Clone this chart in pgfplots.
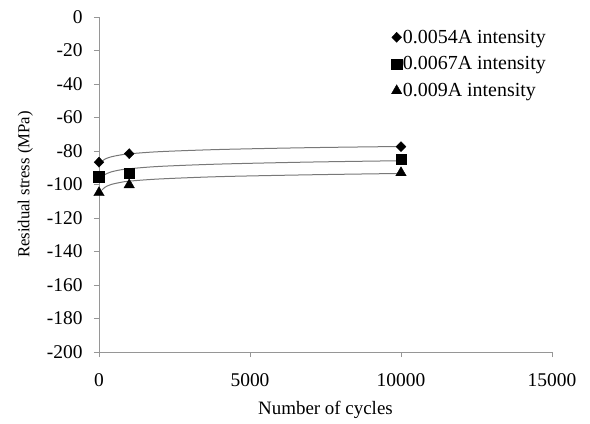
\documentclass[border=0pt]{standalone}
\usepackage{pgfplots}
\pgfplotsset{compat=1.18}
\usepackage{fontspec}
\setmainfont{Liberation Serif}

\definecolor{axisgray}{RGB}{150,150,150}
\definecolor{trendgray}{RGB}{120,120,120}

\begin{document}
\begin{tikzpicture}
\path[use as bounding box] (-99bp,-72bp) rectangle (491bp,352bp);
\begin{axis}[
  at={(0,0)}, anchor=south west,
  scale only axis,
  width=453bp, height=335bp,
  xmin=0, xmax=15000,
  ymin=-200, ymax=0,
  xtick={0,5000,10000,15000},
  ytick={-200,-180,...,0},
  scaled x ticks=false,
  axis lines*=left,
  axis line style={axisgray, line width=0.9bp},
  tick style={axisgray, line width=0.9bp},
  tick align=outside,
  major tick length=5bp,
  /pgf/number format/assume math mode=true,
  /pgf/number format/.cd, 1000 sep={}, /pgfplots/.cd,
  ticklabel style={font=\fontsize{19.5}{21}\selectfont},
  xticklabel style={yshift=-13bp},
  yticklabel style={xshift=-8bp},
  xlabel={Number of cycles},
  ylabel={Residual stress (MPa)},
  xlabel style={font=\fontsize{19}{21}\selectfont, yshift=-8bp},
  ylabel style={font=\fontsize{16.8}{19}\selectfont, yshift=7bp},
  legend style={at={(rel axis cs:0.645,0.965)}, anchor=north west,
    draw=none, fill=none, inner sep=0pt, row sep=10bp,
    font=\fontsize{20}{22}\selectfont,
    nodes={inner sep=1bp}},
  legend cell align=left,
  legend image code/.code={%
    \draw[#1, mark repeat=2, mark phase=2]
      plot coordinates {(0bp,0bp) (5bp,0bp) (11bp,0bp)};},
]
% trend lines
\addplot[trendgray, line width=1bp, smooth, no marks, forget plot]
  coordinates {(100,-86.2) (200,-84.8) (400,-83.5) (700,-82.4) (1000,-81.7)
               (2000,-80.4) (4000,-79.1) (7000,-78.0) (10000,-77.3)};
\addplot[trendgray, line width=1bp, smooth, no marks, forget plot]
  coordinates {(100,-95.5) (200,-94.0) (400,-92.5) (700,-91.3) (1000,-90.6)
               (2000,-89.2) (4000,-87.8) (7000,-86.6) (10000,-85.8)};
\addplot[trendgray, line width=1bp, smooth, no marks, forget plot]
  coordinates {(100,-103.3) (200,-101.6) (400,-100.0) (700,-98.8) (1000,-98.0)
               (2000,-96.7) (4000,-95.3) (7000,-94.2) (10000,-93.4)};
% measured points
\addplot[only marks, mark=diamond*, mark size=5bp, black,
  mark options={xscale=1.3}]
  coordinates {(0,-86.7) (1000,-81.6) (10000,-77.4)};
\addlegendentry{0.0054A intensity}
\addplot[only marks, mark=square*, mark size=5.3bp, black]
  coordinates {(0,-95.2) (1000,-93.3) (10000,-84.9)};
\addlegendentry{0.0067A intensity}
\addplot[only marks, mark=triangle*, mark size=6bp, black]
  coordinates {(0,-104.9) (1000,-100.2) (10000,-93.0)};
\addlegendentry{0.009A intensity}
\end{axis}
\end{tikzpicture}
\end{document}
